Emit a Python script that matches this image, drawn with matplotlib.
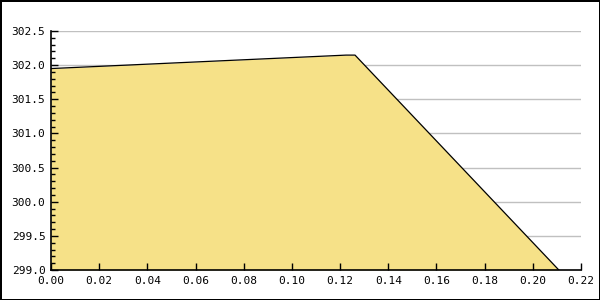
import matplotlib

matplotlib.use("Agg")
import matplotlib.pyplot as plt
from matplotlib.ticker import MultipleLocator, FormatStrFormatter

# profile
xs = [0.0, 0.1225, 0.1262, 0.2108]
ys = [301.95, 302.147, 302.147, 299.0]

fig = plt.figure(figsize=(6, 3), dpi=100)
fig.patch.set_facecolor("white")
fig.patch.set_edgecolor("black")
fig.patch.set_linewidth(2)

ax = fig.add_axes([51 / 600, 30 / 300, 530 / 600, 239 / 300])
ax.fill_between(xs, ys, 299.0, color="#F6E188", linewidth=0, zorder=2)
ax.plot(xs, ys, color="black", linewidth=0.9, zorder=3)

ax.set_xlim(0, 0.22)
ax.set_ylim(299.0, 302.5)
ax.xaxis.set_major_locator(MultipleLocator(0.02))
ax.xaxis.set_major_formatter(FormatStrFormatter("%.2f"))
ax.yaxis.set_major_locator(MultipleLocator(0.5))
ax.yaxis.set_minor_locator(MultipleLocator(0.1))
ax.yaxis.set_major_formatter(FormatStrFormatter("%.1f"))

# grid behind the fill, ticks on top of it
for yv in [299.5, 300.0, 300.5, 301.0, 301.5, 302.0, 302.5]:
    ax.axhline(yv, color="#C0C0C0", linewidth=1, zorder=1)
ax.set_axisbelow(False)

for s in ("top", "right"):
    ax.spines[s].set_visible(False)
for s in ("left", "bottom"):
    ax.spines[s].set_linewidth(1.2)
    ax.spines[s].set_zorder(4)

ax.tick_params(axis="both", which="major", direction="in", length=5, width=1,
               labelsize=8, pad=4)
ax.tick_params(axis="y", which="minor", direction="in", length=3, width=1)
for lab in ax.get_xticklabels() + ax.get_yticklabels():
    lab.set_family("DejaVu Sans Mono")

fig.savefig("out.png", dpi=100, edgecolor=fig.get_edgecolor())
